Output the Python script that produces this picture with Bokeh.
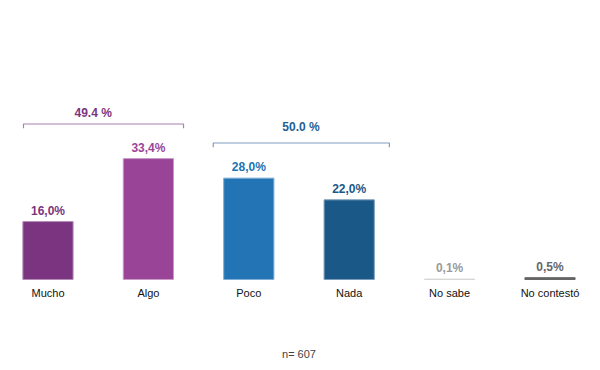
from bokeh.plotting import figure
from bokeh.models import Range1d, ColumnDataSource
from bokeh.core.properties import value
from bokeh.embed import file_html
from bokeh.resources import INLINE

categories = ["Mucho", "Algo", "Poco", "Nada", "No sabe", "No contestó"]
values = [16.0, 33.4, 28.0, 22.0, 0.1, 0.5]
value_labels = ["16,0%", "33,4%", "28,0%", "22,0%", "0,1%", "0,5%"]
bar_colors = ["#7B3580", "#9A4498", "#2274B4", "#1A5887", "#D6D6D6", "#666666"]
edge_colors = ["#B58BB8", "#C79BC6", "#7FAED6", "#7A9CB8", "#D6D6D6", "#666666"]
label_colors = ["#7B3580", "#9A4498", "#2274B4", "#1A5887", "#9A9A9A", "#666666"]
group_labels = ["49.4 %", "50.0 %"]
group_members = [(0, 1), (2, 3)]
group_span = [(-0.244, 0.35), (-0.354, 0.40)]
group_line_levels = [42.96, 37.7]
group_text_levels = [45.86, 41.99]
group_text_x = [0.45, 2.52]
group_colors = ["#7B3580", "#1F5F95"]
group_line_colors = ["#A982AE", "#7F9DBE"]
note = "n= 607"

FONT = "Liberation Sans"
x = list(range(len(categories)))

p = figure(width=600, height=370, output_backend="svg", toolbar_location=None,
           x_range=Range1d(-0.473, 5.503), y_range=Range1d(-25.14, 77.07),
           min_border=0, outline_line_color=None)
p.xaxis.visible = False
p.yaxis.visible = False
p.xgrid.visible = False
p.ygrid.visible = False
p.background_fill_color = "white"
p.border_fill_color = "white"

src = ColumnDataSource(dict(x=x, top=values, color=bar_colors, edge=edge_colors,
                            lab=value_labels, lcol=label_colors, cat=categories))
p.vbar(x="x", top="top", bottom=0, width=0.5, fill_color="color", line_color="edge",
       line_width=1, source=src)

p.text(x="x", y="top", text="lab", text_color="lcol", source=src,
       text_font=value(FONT), text_font_style="bold", text_font_size="12px",
       text_align="center", text_baseline="bottom", y_offset=-4)

p.text(x="x", y=0, text="cat", source=src, text_color="#111111",
       text_font=value(FONT), text_font_size="11px",
       text_align="center", text_baseline="top", y_offset=8)

for (a, b), (da, db), lvl, tl, tx, lab, col, lcol in zip(group_members, group_span, group_line_levels,
                                                         group_text_levels, group_text_x,
                                                         group_labels, group_colors, group_line_colors):
    x0 = a + da
    x1 = b + db
    p.line([x0, x0, x1, x1], [lvl - 1.2, lvl, lvl, lvl - 1.2], line_color=lcol, line_width=1.2)
    p.text(x=[tx], y=[tl], text=[lab], text_color=col,
           text_font=value(FONT), text_font_style="bold", text_font_size="12px",
           text_align="center", text_baseline="middle")

p.text(x=[2.5], y=[-20.7], text=[note], text_color="#444444",
       text_font=value(FONT), text_font_size="11px",
       text_align="center", text_baseline="middle")

open("out.html", "w").write(file_html(p, INLINE))
